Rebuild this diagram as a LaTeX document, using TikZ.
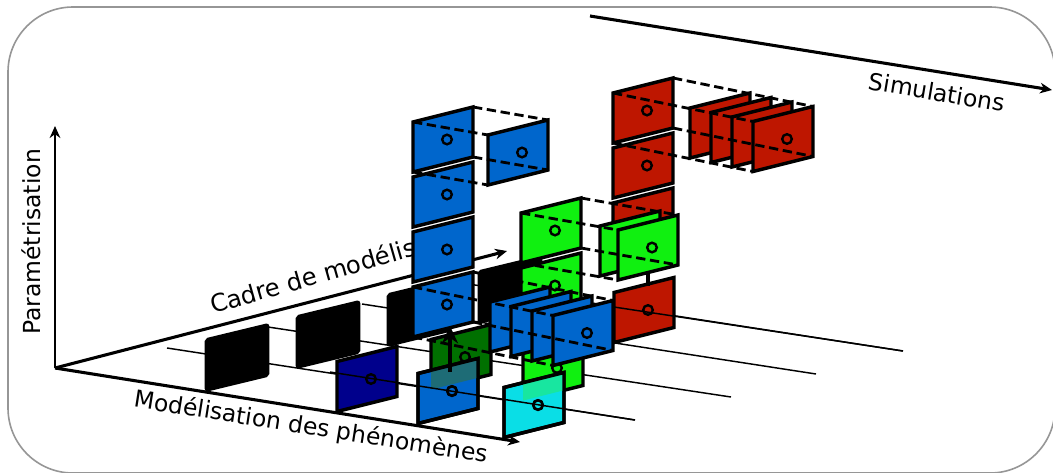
\documentclass[tikz,border=0pt]{standalone}
\usepackage{fontspec}
\setmainfont{DejaVu Sans}
\usetikzlibrary{arrows.meta}
\definecolor{bluep}{RGB}{0,102,204}
\definecolor{redp}{RGB}{190,22,0}
\definecolor{greenp}{RGB}{16,240,16}
\definecolor{dgreenp}{RGB}{0,112,0}
\definecolor{navyp}{RGB}{0,0,140}
\definecolor{cyanp}{RGB}{10,222,230}
\definecolor{tealmix}{RGB}{30,108,118}
\definecolor{seamix}{RGB}{24,230,160}
\definecolor{framegray}{RGB}{150,150,150}
\begin{document}
\begin{tikzpicture}[x=0.75pt,y=-0.75pt,
  panel/.style={draw,line width=2.6pt,line join=miter},
  blk/.style={draw,fill=black,line width=2pt,rounded corners=1.5pt},
  ring/.style={draw,line width=1.8pt},
  boxedge/.style={line width=2.1pt,dash pattern=on 7pt off 3.5pt},
  rowline/.style={line width=1.1pt},
  axe/.style={line width=2.3pt,-{Stealth[length=9pt,width=8pt]}},
  lab/.style={font=\fontsize{17.6}{20}\selectfont,inner sep=0pt}]
\useasboundingbox (0,0) rectangle (1053,472);
\draw[framegray,line width=1.2pt,rounded corners=48.75pt] (8,7) rectangle (1055,473);
\foreach \sx/\sy/\ex/\ey in {167/348/635/420,268/327/731/397,362/304/816/374,449/281/903/351}
  \draw[rowline] (\sx,\sy) -- (\ex,\ey);
\coordinate (o) at (55,368);
\coordinate (zt) at (55,126);
\coordinate (xt) at (520,442);
\coordinate (yt) at (507,251);
\coordinate (s0) at (590,16);
\coordinate (s1) at (1052,90);
\draw[axe] (o) -- (yt);
\draw[axe] (o) -- (xt);
\draw[axe,line width=1.7pt] (o) -- (zt);
\draw[axe] (s0) -- (s1);
\node[lab,rotate=90] (param) at (31,242) {Paramétrisation};
\node[lab,rotate=-9] (modl) at (311,428) {Modélisation des phénomènes};
\node[lab,rotate=-9.5] (simu) at (937,92) {Simulations};
\node[lab,font=\fontsize{18.2}{20}\selectfont,rotate=16,anchor=base west] (cadre) at (213,314) {Cadre de modélisation};
\foreach \cx/\cy in {237/357,328/334,419/312,510/289}
  \filldraw[blk] (\cx-31,\cy-17.5) -- ++(62,-15) -- ++(0,51) -- ++(-62,15) -- cycle;
\foreach \cx/\cy/\col in {443/139.5/bluep,443/194.5/bluep,443/249.5/bluep,443/304.5/bluep,
  643/110.5/redp,643/165.5/redp,643/220.5/redp,551/230.5/greenp,551/285.5/greenp,
  553/368/greenp,461/357/dgreenp}
{
  \filldraw[panel,fill=\col] (\cx-30,\cy-17.5) -- ++(60,-15) -- ++(0,50) -- ++(-60,15) -- cycle;
  \draw[ring] (\cx+4,\cy) circle (3.6pt);
}
\foreach \cx/\cy/\col/\o in {520/319.5/bluep/0,541/324/bluep/0,562/328.5/bluep/0,583/333/bluep/1,
  630/243.5/greenp/0,648/247.5/greenp/1,
  720/125.5/redp/0,741/130/redp/0,762/134.5/redp/0,783/139/redp/1,518/152.5/bluep/1,
  644/310/redp/1,367/379/navyp/1,448/391/bluep/1,534/405/cyanp/1}
{
  \filldraw[panel,fill=\col] (\cx-30,\cy-17.5) -- ++(60,-15) -- ++(0,50) -- ++(-60,15) -- cycle;
  \ifnum\o=1 \draw[ring] (\cx+4,\cy) circle (3.6pt); \fi
}
\begin{scope}
  \clip (431,339.5) -- ++(60,-15) -- ++(0,50) -- ++(-60,15) -- cycle;
  \fill[tealmix] (418,373.5) -- ++(60,-15) -- ++(0,50) -- ++(-60,15) -- cycle;
\end{scope}
\begin{scope}
  \clip (523,350.5) -- ++(60,-15) -- ++(0,50) -- ++(-60,15) -- cycle;
  \fill[seamix] (504,387.5) -- ++(60,-15) -- ++(0,50) -- ++(-60,15) -- cycle;
\end{scope}
\draw[panel] (418,373.5) -- ++(60,-15) -- ++(0,50) -- ++(-60,15) -- cycle;
\draw[panel] (504,387.5) -- ++(60,-15) -- ++(0,50) -- ++(-60,15) -- cycle;
\draw[ring] (452,391) circle (3.6pt);
\draw[ring] (538,405) circle (3.6pt);
\draw[line width=3pt,-{Stealth[length=13pt,width=12pt]}] (450,372) -- (450,326);
\draw[line width=2.4pt] (648,271) -- (648,286);
\foreach \bx/\by/\fx/\fy in {443/139.5/518/152.5,443/304.5/583/333,643/110.5/783/139,551/230.5/648/247.5}
  \foreach \dx/\dy in {-30/-17.5,30/-32.5,30/17.5,-30/32.5}
    \draw[boxedge] (\bx+\dx,\by+\dy) -- (\fx+\dx,\fy+\dy);
\draw[rowline] (330,372) -- (635,420);
\draw[rowline] (614,307) -- (903,351);
\end{tikzpicture}
\end{document}
